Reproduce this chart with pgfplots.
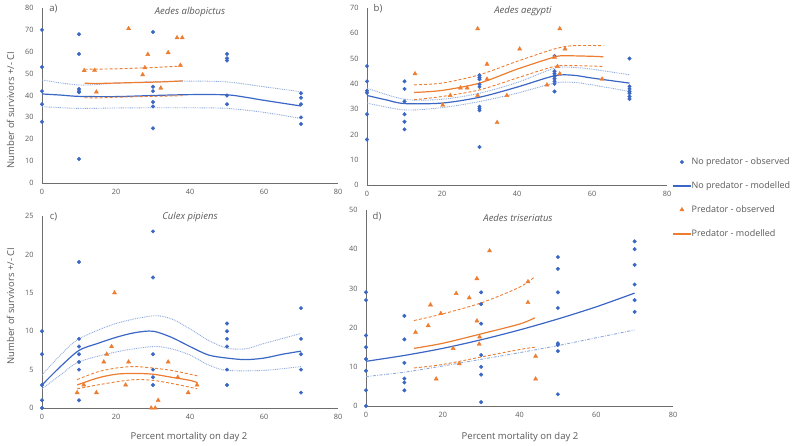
\documentclass[border=0pt]{standalone}
\usepackage{fontspec}
\setmainfont{Open Sans}
\usepackage{pgfplots}
\pgfplotsset{compat=1.18}
\definecolor{bM}{HTML}{3A66C4}
\definecolor{bL}{HTML}{8EA9DB}
\definecolor{oM}{HTML}{ED7D31}
\definecolor{tgray}{HTML}{595959}
\definecolor{agray}{HTML}{6E6E6E}
\pgfplotsset{
  panel/.style={scale only axis, anchor=south west, axis lines=left,
    axis line style={-, draw=agray, line width=0.8pt},
    xmin=0, xmax=80, xtick={0,20,40,60,80}, major tick length=0pt,
    tick label style={font=\fontsize{7.3}{8}\selectfont, text=tgray},
    xticklabel style={yshift=-3pt}, yticklabel style={xshift=-5pt},
    clip=false, /pgf/number format/assume math mode=true},
  obsN/.style={only marks, mark=*, mark size=1.8pt, color=bM},
  obsP/.style={only marks, mark=triangle*, mark size=2.4pt, color=oM},
  modN/.style={no marks, smooth, color=bM, line width=1.2pt},
  ciN/.style={no marks, smooth, color=bL, line width=0.9pt, dash pattern=on 0.9pt off 0.9pt},
  modP/.style={no marks, smooth, color=oM, line width=1.2pt},
  ciP/.style={no marks, smooth, color=oM, line width=0.9pt, dash pattern=on 3pt off 2pt},
}
\begin{document}
\begin{tikzpicture}
\useasboundingbox (0,0) rectangle (800pt,445pt);
% ---------------- a) Aedes albopictus
\begin{axis}[panel, at={(42pt,262pt)}, width=296pt, height=175pt,
  ymin=0, ymax=80, ytick={0,10,...,80}]
\addplot[obsN] coordinates {(0,70)(0,53)(0,42)(0,36)(0,28)
 (10,68)(10,59)(10,43)(10,42)(10,41.5)(10,11)
 (30,69)(30,44)(30,42)(30,37)(30,35)(30,25)
 (50,59)(50,57)(50,56)(50,40)(50,36)
 (70,41)(70,39)(70,36)(70,30)(70,27)};
\addplot[modN] coordinates {(0,40.7)(5,40.2)(10,39.6)(20,39.5)(30,40)(40,40.4)(50,40.3)(55,39.2)(60,37.8)(70,35.2)};
\addplot[ciN] coordinates {(0,47.1)(10,44.8)(20,45.6)(30,46.3)(40,46.6)(50,46.2)(60,44)(70,41.7)};
\addplot[ciN] coordinates {(0,34.9)(10,34.1)(20,34.3)(30,34.4)(40,34.4)(50,34.1)(60,32.3)(70,29.5)};
\addplot[obsP] coordinates {(11.4,51.4)(14.2,51.5)(14.7,41.6)(23.4,70.6)(27.2,49.5)(27.8,52.7)(28.6,58.8)(32.1,43.4)(34.1,59.6)(36.5,66.4)(37.9,66.4)(37.4,53.8)};
\addplot[modP] coordinates {(11.5,45.6)(15,45.5)(20,45.7)(25,45.9)(30,46.1)(35,46.4)(38,46.7)};
\addplot[ciP] coordinates {(11.5,52)(20,52.2)(30,52.8)(38,53.5)};
\addplot[ciP] coordinates {(11.5,39)(15,38.9)(20,39.2)(30,39.6)(38,39.9)};
\end{axis}
% ---------------- b) Aedes aegypti
\begin{axis}[panel, at={(367pt,260pt)}, width=300pt, height=177pt,
  ymin=0, ymax=70, ytick={0,10,...,70},
  legend style={at={(1.02,0.16)}, anchor=north west, draw=none, fill=none,
    font=\fontsize{9}{10}\selectfont, row sep=13.5pt, inner sep=0pt,
    nodes={inner sep=1pt}},
  legend cell align=left]
\addplot[obsN, forget plot] coordinates {(0,47)(0,41)(0,37.3)(0,36.5)(0,28)(0,18)
 (10,41)(10,38)(10,33)(10,28)(10,25)(10,22)
 (30,43.4)(30,42.5)(30,41.8)(30,39.8)(30,38.8)(30,31)(30,30.2)(30,29.5)(30,15)
 (50,51)(50,45)(50,44)(50,43)(50,42)(50,41)(50,40)(50,37)
 (70,50)(70,39)(70,38)(70,37)(70,36.3)(70,35)(70,34)};
\addplot[modN, forget plot] coordinates {(0,35.4)(5,33.7)(10,32.2)(20,32.4)(30,34.7)(40,38.7)(50,43.2)(55,43.4)(60,42.3)(70,40.3)};
\addplot[ciN, forget plot] coordinates {(0,38.3)(10,33.9)(20,33.9)(30,36.3)(40,40.5)(50,46.2)(55,46.5)(60,45.8)(70,43.6)};
\addplot[ciN, forget plot] coordinates {(0,32.4)(10,29.7)(20,30.6)(30,33)(40,36.3)(50,40.3)(55,40.6)(60,39.6)(70,37)};
\addplot[obsP, forget plot] coordinates {(12.8,44)(29.5,61.8)(32,47.8)(40.7,53.8)(51.4,61.8)(52.8,53.8)(50.8,46.9)(51.4,44)(50,50.5)(48,39.6)(62.7,41.9)(32,41.9)(26.7,38.4)(24.9,38.4)(22.2,35.4)(29.5,35.4)(37.3,35.4)(20.2,31.6)(34.7,24.7)};
\addplot[modP, forget plot] coordinates {(12.5,36.6)(20,37.4)(30,40.3)(40,45.8)(50,50.6)(53,51.1)(60,50.9)(63,50.7)};
\addplot[ciP, forget plot] coordinates {(12.5,39.6)(20,40.3)(30,43.6)(40,48.9)(50,53.8)(55,55.1)(63,55.1)};
\addplot[ciP, forget plot] coordinates {(12.5,33.7)(20,35)(30,37.6)(40,42.3)(50,46.9)(55,47.2)(63,46.9)};
\addlegendimage{only marks, mark=*, mark size=1.8pt, color=bM}
\addlegendentry{\textcolor{tgray}{No predator - observed}}
\addlegendimage{legend image code/.code={\fill[bM] (0pt,-0.65pt) rectangle (17pt,0.65pt);}}
\addlegendentry{\textcolor{tgray}{No predator - modelled}}
\addlegendimage{only marks, mark=triangle*, mark size=2.4pt, color=oM}
\addlegendentry{\textcolor{tgray}{Predator - observed}}
\addlegendimage{legend image code/.code={\fill[oM] (0pt,-0.65pt) rectangle (17pt,0.65pt);}}
\addlegendentry{\textcolor{tgray}{Predator - modelled}}
\end{axis}
% ---------------- c) Culex pipiens
\begin{axis}[panel, at={(42pt,37pt)}, width=296pt, height=192pt,
  ymin=0, ymax=25, ytick={0,5,...,25}]
\addplot[obsN] coordinates {(0,10)(0,7)(0,3)(0,1)(0,0)
 (10,19)(10,9)(10,8)(10,7)(10,6)(10,5)(10,1)
 (30,23)(30,17)(30,7)(30,5)(30,4)(30,3)
 (50,11)(50,10)(50,9)(50,8)(50,5)(50,3)
 (70,13)(70,9)(70,7)(70,5)(70,2)};
\addplot[modN] coordinates {(0,3)(5,5.4)(10,7.5)(15,8.4)(20,9.2)(25,9.8)(30,10)(35,9.2)(40,8)(45,6.9)(50,6.5)(55,6.3)(60,6.5)(65,7)(70,7.4)};
\addplot[ciN] coordinates {(0,4.3)(5,6.9)(10,9)(20,11)(30,12)(35,11.6)(40,10.3)(45,8.8)(50,7.8)(55,7.7)(60,8.4)(70,9.7)};
\addplot[ciN] coordinates {(0,2.5)(5,4.3)(10,6)(20,7.3)(30,8)(35,7.7)(40,6.9)(45,5.6)(50,4.9)(60,4.9)(70,5.4)};
\addplot[obsP] coordinates {(9.5,2)(11.3,3)(14.7,2)(16.7,6)(17.5,7)(18.8,8)(19.6,15)(22.6,3)(23.4,6)(29.5,0)(30.6,0)(31.4,1)(34.1,6)(36.7,4)(39.5,2)(41.9,3)};
\addplot[modP] coordinates {(9.5,3)(15,3.9)(20,4.4)(25,4.5)(30,4.4)(35,4)(40,3.6)(42,3.3)};
\addplot[ciP] coordinates {(9.5,3.7)(15,4.7)(20,5.2)(25,5.4)(30,5.2)(35,4.9)(40,4.4)(42,4.2)};
\addplot[ciP] coordinates {(9.5,2.5)(15,3)(20,3.4)(25,3.7)(30,3.6)(35,3.2)(40,2.7)(42,2.5)};
\end{axis}
% ---------------- d) Aedes triseriatus
\begin{axis}[panel, at={(366pt,39pt)}, width=307pt, height=196pt,
  ymin=0, ymax=50, ytick={0,10,...,50}]
\addplot[obsN] coordinates {(0,29)(0,27)(0,18)(0,15)(0,12)(0,9)(0,4)(0,0)
 (10,23)(10,17)(10,11)(10,7)(10,6)(10,4)
 (30,29)(30,26)(30,21)(30,13)(30,10)(30,8)(30,1)
 (50,38)(50,35)(50,29)(50,25)(50,16)(50,15.6)(50,14)(50,3)
 (70,42)(70,40)(70,36)(70,31)(70,27)(70,24)};
\addplot[modN] coordinates {(0,11.4)(10,12.9)(20,14.7)(30,16.9)(40,19.4)(50,22.2)(60,25.3)(70,28.8)};
\addplot[no marks, color=bL, line width=0.9pt, dash pattern=on 3pt off 1.5pt on 0.8pt off 1.5pt] coordinates {(0,7.5)(10,8.6)(20,10.2)(30,11.9)(40,13.6)(50,15.4)(60,17.4)(70,19.4)};
\addplot[obsP] coordinates {(12.9,18.8)(16.8,25.8)(16.2,20.5)(18.3,6.9)(19.5,23.6)(23.5,28.7)(22.7,14.7)(24.3,10.8)(26.9,27.6)(28.9,32.5)(28.9,21.7)(29.6,17.6)(29.5,15.8)(32.2,39.6)(42.2,31.7)(42.2,26.4)(44.2,12.7)(44.2,6.9)};
\addplot[modP] coordinates {(12.5,14.7)(20,16)(30,18.4)(40,20.9)(44,22.5)};
\addplot[ciP] coordinates {(12.5,21.8)(20,23.5)(30,26.3)(40,30.3)(44,33)};
\addplot[ciP] coordinates {(12.5,9.7)(20,10.6)(30,12.5)(40,14.4)(44,15)};
\end{axis}
% ---------------- texts
\begin{scope}[every node/.style={text=tgray}]
\node[font=\fontsize{9.5}{11}\selectfont] at (53.5pt,436.5pt) {a)};
\node[font=\fontsize{9.5}{11}\selectfont] at (378pt,436.5pt) {b)};
\node[font=\fontsize{9.5}{11}\selectfont] at (53.5pt,228.5pt) {c)};
\node[font=\fontsize{9.5}{11}\selectfont] at (377pt,228pt) {d)};
\node[font=\itshape\fontsize{9.5}{11}\selectfont] at (190pt,433pt) {Aedes albopictus};
\node[font=\itshape\fontsize{9.5}{11}\selectfont] at (523pt,434pt) {Aedes aegypti};
\node[font=\itshape\fontsize{9.5}{11}\selectfont] at (190pt,228pt) {Culex pipiens};
\node[font=\itshape\fontsize{9.5}{11}\selectfont] at (518pt,227pt) {Aedes triseriatus};
\node[font=\fontsize{9.5}{11}\selectfont, rotate=90] at (10.5pt,335pt) {Number of survivors +/- CI};
\node[font=\fontsize{9.5}{11}\selectfont, rotate=90] at (10.5pt,139pt) {Number of survivors +/- CI};
\node[font=\fontsize{9.5}{11}\selectfont] at (189pt,8pt) {Percent mortality on day 2};
\node[font=\fontsize{9.5}{11}\selectfont] at (520pt,8pt) {Percent mortality on day 2};
\end{scope}
\end{tikzpicture}
\end{document}
